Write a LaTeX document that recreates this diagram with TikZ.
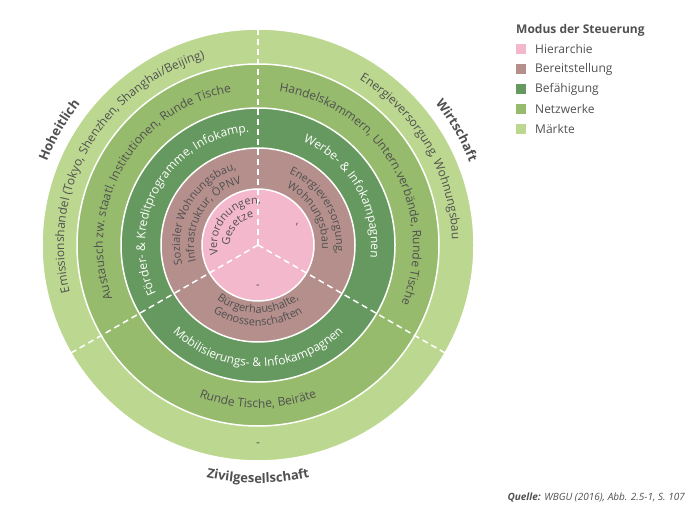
\documentclass[tikz,border=0pt]{standalone}
\usepackage{fontspec}
\setmainfont{Open Sans}
\usetikzlibrary{decorations.text,calc}
\definecolor{gA}{HTML}{BCD890}
\definecolor{gB}{HTML}{97BB6C}
\definecolor{gC}{HTML}{66995F}
\definecolor{mv}{HTML}{B48F8C}
\definecolor{pk}{HTML}{F4B8CD}
\definecolor{txt}{HTML}{505050}
\newcommand\ringtext[5]{%
 \path[decorate,decoration={text along path,text align=center,text={|#4|#5}}]
 ($(C)+(#2:#1)$) arc[start angle=#2,end angle=#3,radius=#1];}
\newcommand\fA{\fontsize{12}{14}\selectfont\color{txt}}
\newcommand\fW{\fontsize{12}{14}\selectfont\color{white}}
\newcommand\fS{\fontsize{11}{13}\selectfont\color{txt}}
\newcommand\fL{\fontsize{13}{15}\selectfont\bfseries\color{txt}}
\begin{document}
\begin{tikzpicture}[x=1pt,y=1pt,
  ring/.style={draw=white,line width=1.5pt},
  wdash/.style={draw=white,line width=1.5pt,dash pattern=on 6pt off 4pt},
  leg/.style={anchor=west,inner sep=0pt,font=\fontsize{12}{14}\selectfont,text=txt},
  sq/.style={fill=#1,minimum size=10pt,inner sep=0pt}]
\useasboundingbox (0,0) rectangle (700,520);
\coordinate (C) at (258,275);
\fill[gA,ring] (C) circle (216);
\fill[gB,ring] (C) circle (181);
\fill[gC,ring] (C) circle (137);
\fill[mv,ring] (C) circle (97);
\fill[pk,ring] (C) circle (56);
\coordinate (T) at (258,520);
\coordinate (L) at ($(C)+(210:225)$);
\coordinate (R) at ($(C)+(330:225)$);
\draw[wdash] (C) -- (T);
\draw[wdash] (C) -- (L);
\draw[wdash] (C) -- (R);
% outer ring
\ringtext{194}{265}{35}{\fA}{Emissionshandel (Tokyo, Shenzhen, Shanghai/Beijing)}
\ringtext{194}{145}{-85}{\fA}{Energieversorgung, Wohnungsbau}
\node[font=\fA] (om) at ($(C)+(270:200)$) {-};
% Netzwerke
\ringtext{155}{265}{35}{\fA}{Austausch zw. staatl. Institutionen, Runde Tische}
\ringtext{155}{145}{-85}{\fA}{Handelskammern, Untern.verbände, Runde Tische}
\ringtext{163}{150}{390}{\fA}{Runde Tische, Beiräte}
% Befaehigung
\ringtext{113}{265}{35}{\fW}{Förder- {\&} Kreditprogramme, Infokamp.}
\ringtext{113}{145}{-85}{\fW}{Werbe- {\&} Infokampagnen}
\ringtext{122}{150}{390}{\fW}{Mobilisierungs- {\&} Infokampagnen}
% Bereitstellung
\ringtext{78}{265}{35}{\fS}{Sozialer Wohnungsbau,}
\ringtext{64}{265}{35}{\fS}{Infrastruktur, ÖPNV}
\ringtext{78}{145}{-85}{\fS}{Energieversorgung,}
\ringtext{64}{145}{-85}{\fS}{Wohnungsbau}
\ringtext{68}{150}{390}{\fS}{Bürgerhaushalte,}
\ringtext{81}{150}{390}{\fS}{Genossenschaften}
% Hierarchie
\ringtext{41}{250}{30}{\fS}{Verordnungen,}
\ringtext{28}{250}{30}{\fS}{Gesetze}
\node[font=\fS] (pr) at ($(C)+(27:44)$) {,};
\node[font=\fS] (pb) at ($(C)+(270:42)$) {-};
% sector labels
\ringtext{227}{250}{50}{\fL}{Hoheitlich}
\ringtext{227}{130}{-70}{\fL}{Wirtschaft}
\ringtext{238}{190}{350}{\fL}{Zivilgesellschaft}
% legend
\node[anchor=west,inner sep=0pt,font=\fontsize{12}{14}\selectfont\bfseries,text=txt] (lt) at (516,490) {Modus der Steuerung};
\node[sq=pk] (s1) at (521,471) {}; \node[leg] (l1) at (535,471) {Hierarchie};
\node[sq=mv] (s2) at (521,451) {}; \node[leg] (l2) at (535,451) {Bereitstellung};
\node[sq=gC] (s3) at (521,431) {}; \node[leg] (l3) at (535,431) {Befähigung};
\node[sq=gB] (s4) at (521,411) {}; \node[leg] (l4) at (535,411) {Netzwerke};
\node[sq=gA] (s5) at (521,391) {}; \node[leg] (l5) at (535,391) {Märkte};
\node[anchor=east,inner sep=0pt,font=\fontsize{10}{12}\selectfont\itshape,text=txt] (q) at (685,22) {\textbf{Quelle:} WBGU (2016), Abb. 2.5-1, S. 107};
\end{tikzpicture}
\end{document}
